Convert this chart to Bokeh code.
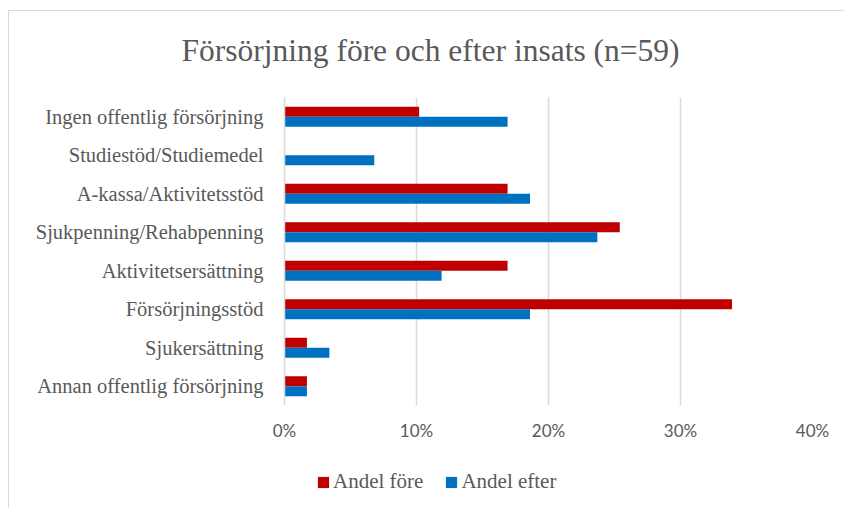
from bokeh.plotting import figure
from bokeh.layouts import column
from bokeh.models import (Range1d, FactorRange, Legend, LegendItem, Title,
                          NumeralTickFormatter, FixedTicker, ColumnDataSource)
from bokeh.transform import dodge
from bokeh.embed import file_html
from bokeh.resources import INLINE

categories = ["Ingen offentlig försörjning", "Studiestöd/Studiemedel",
              "A-kassa/Aktivitetsstöd", "Sjukpenning/Rehabpenning",
              "Aktivitetsersättning", "Försörjningsstöd", "Sjukersättning",
              "Annan offentlig försörjning"]
andel_fore = [0.102, 0.0, 0.169, 0.254, 0.169, 0.339, 0.017, 0.017]
andel_efter = [0.169, 0.068, 0.186, 0.237, 0.119, 0.186, 0.034, 0.017]
x_ticks = [0, 0.1, 0.2, 0.3, 0.4]
series_names = ["Andel före", "Andel efter"]
series_cols = ["fore", "efter"]
series_colors = ["#C00000", "#0070C0"]
title_text = "Försörjning före och efter insats (n=59)"

SERIF = "Liberation Serif"
SANS = "Lato"
TXT = "#595959"
GRID = "#D9D9D9"

p = figure(width=835, height=455,
           x_range=Range1d(0, 0.4),
           y_range=FactorRange(factors=list(reversed(categories))),
           output_backend="svg", toolbar_location=None,
           min_border_left=275, min_border_right=32,
           min_border_top=86, min_border_bottom=61)
p.outline_line_color = None
p.background_fill_color = "white"
p.border_fill_color = "white"

src = ColumnDataSource(dict(cat=categories, fore=andel_fore, efter=andel_efter))
offsets = [0.13, -0.13]
for col, off, color in zip(series_cols, offsets, series_colors):
    p.hbar(y=dodge("cat", off, range=p.y_range), left=0, right=col, height=0.26,
           source=src, fill_color=color, line_color=None)

# title: a small blank spacer next to the frame, the real title above it
p.title.text = ""
p.add_layout(Title(text=" ", text_font_size="10px", standoff=12), "above")
p.add_layout(Title(text=title_text, align="left", offset=-103, standoff=10,
                   text_font=SERIF, text_font_size="31.5px",
                   text_font_style="normal", text_color=TXT), "above")

# x axis
p.xaxis.ticker = FixedTicker(ticks=x_ticks)
p.xaxis.formatter = NumeralTickFormatter(format="0%")
p.xaxis.axis_line_color = None
p.xaxis.major_tick_line_color = None
p.xaxis.major_tick_out = 0
p.xaxis.major_tick_in = 0
p.xaxis.minor_tick_line_color = None
p.xaxis.major_label_standoff = 14
p.xaxis.major_label_text_font = SANS
p.xaxis.major_label_text_font_size = "17px"
p.xaxis.major_label_text_color = TXT

# y axis
p.yaxis.axis_line_color = GRID
p.yaxis.axis_line_width = 1.5
p.yaxis.major_tick_line_color = None
p.yaxis.major_tick_out = 0
p.yaxis.major_tick_in = 0
p.yaxis.minor_tick_line_color = None
p.yaxis.major_label_standoff = 21
p.yaxis.major_label_text_font = SERIF
p.yaxis.major_label_text_font_size = "20.5px"
p.yaxis.major_label_text_color = TXT

p.xgrid.grid_line_color = GRID
p.xgrid.grid_line_width = 1.5
p.ygrid.grid_line_color = None

# legend strip below the chart (series swatches taken from hidden copies of the bars)
lf = figure(width=835, height=42, x_range=Range1d(0, 0.4),
            y_range=FactorRange(factors=list(reversed(categories))),
            x_axis_type=None, y_axis_type=None,
            output_backend="svg", toolbar_location=None,
            min_border_left=0, min_border_right=0, min_border_top=0, min_border_bottom=0)
lf.outline_line_color = None
lf.grid.grid_line_color = None
items = []
for name, col, color in zip(series_names, series_cols, series_colors):
    r = lf.hbar(y="cat", right=col, left=0, height=0.26, source=src,
                fill_color=color, line_color=None, visible=False)
    items.append(LegendItem(label=name, renderers=[r]))
legend = Legend(items=items, orientation="horizontal", location=(32, 14),
                glyph_width=14, glyph_height=14, label_standoff=3, spacing=21,
                padding=0, margin=0, border_line_color=None, background_fill_alpha=0,
                inactive_fill_alpha=0,
                label_text_font=SERIF, label_text_font_size="21px",
                label_text_color=TXT)
lf.add_layout(legend, "center")

layout = column(p, lf, spacing=0)
layout.styles = {"border-left": "1px solid #D9D9D9", "border-top": "1px solid #D9D9D9",
                 "margin-top": "10px", "margin-left": "8px"}

open("out.html", "w").write(file_html(layout, INLINE))
